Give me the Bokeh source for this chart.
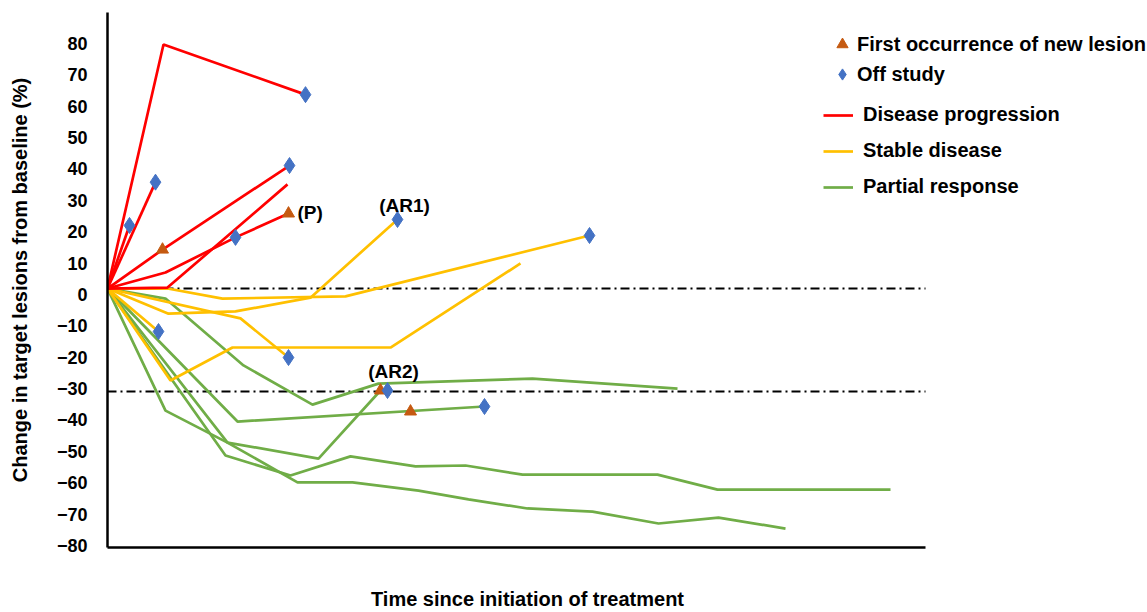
from bokeh.plotting import figure
from bokeh.models import Range1d, Label, Legend, LegendItem, FixedTicker
from bokeh.embed import file_html
from bokeh.resources import INLINE

FONT = "Liberation Sans"

# ---- data (time in arbitrary units, change in %) ----
y_ticks = [-80, -70, -60, -50, -40, -30, -20, -10, 0, 10, 20, 30, 40, 50, 60, 70, 80]

prog_x = [[0, 5.6, 19.8], [0, 4.8], [0, 2.2], [0, 5.5, 18.2], [0, 5.8, 12.8, 18.1], [0, 6.0, 18.0]]
prog_y = [[1.9, 79.7, 63.7], [1.9, 35.8], [1.9, 22.0], [1.9, 14.3, 41.1],
          [1.9, 7.0, 18.2, 25.8], [1.9, 2.2, 35.1]]

stable_x = [[0, 6.0, 11.5, 23.8, 48.2], [0, 6.1, 12.8, 20.3, 29.0], [0, 13.3, 18.1],
            [0, 6.3, 12.5, 28.3, 41.3], [0, 5.1]]
stable_y = [[1.9, 1.9, -1.3, -0.6, 18.8], [1.9, -6.1, -5.4, -1.0, 23.9], [1.9, -7.6, -20.1],
            [1.9, -27.4, -16.9, -16.9, 9.9], [1.9, -11.8]]

resp_x = [[0, 5.8, 13.6, 20.5, 27.1, 42.5, 57.0],
          [0, 5.8, 12.0, 21.1, 27.3],
          [0, 11.8, 18.3, 24.3, 30.8, 35.8, 41.5, 55.0, 61.0, 78.3],
          [0, 12.0, 19.0, 24.5, 31.1, 36.1, 42.0, 48.5, 55.1, 61.1, 67.8],
          [0, 13.0, 37.7]]
resp_y = [[1.9, -1.3, -22.6, -35.1, -28.4, -26.8, -30.0],
          [1.9, -37.0, -47.2, -52.3, -30.6],
          [1.9, -51.3, -57.7, -51.6, -54.8, -54.5, -57.4, -57.4, -62.2, -62.2],
          [1.9, -47.2, -59.9, -59.9, -62.5, -65.3, -68.2, -69.2, -73.0, -71.1, -74.6],
          [1.9, -40.5, -35.7]]

new_lesion_x = [5.5, 18.1, 27.3, 30.3]
new_lesion_y = [14.3, 25.8, -30.6, -37.3]

off_study_x = [2.2, 4.8, 19.8, 18.2, 12.8, 29.0, 48.2, 5.1, 18.1, 28.0, 37.7]
off_study_y = [22.0, 35.8, 63.7, 41.1, 18.2, 23.9, 18.8, -11.8, -20.1, -30.6, -35.7]

ref_levels = [1.9, -30.9]
x_axis_end = 81.8

x_title = "Time since initiation of treatment"
x_title_pos = 42.0

ann_text = ["(P)", "(AR1)", "(AR2)"]
ann_x = [19.0, 29.7, 28.6]
ann_y = [26.1, 28.4, -24.5]
ann_align = ["left", "center", "center"]

RED, YEL, GRN = "#FF0000", "#FFC000", "#70AD47"
TRI_C, DIA_C = "#C55A11", "#4472C4"

p = figure(width=1147, height=612, output_backend="svg", toolbar_location=None,
           x_range=Range1d(0, 104.0), y_range=Range1d(-80.64, 89.88),
           min_border_left=107, min_border_right=0, min_border_top=12, min_border_bottom=65,
           background_fill_color="white", border_fill_color="white")
p.outline_line_color = None
p.grid.visible = False

for lv in ref_levels:
    p.segment(x0=0, y0=lv, x1=x_axis_end, y1=lv, line_color="black",
              line_width=2, line_dash="9 4 2 4")

r_resp = p.multi_line(resp_x, resp_y, line_color=GRN, line_width=2.7)
r_stab = p.multi_line(stable_x, stable_y, line_color=YEL, line_width=2.7)
r_prog = p.multi_line(prog_x, prog_y, line_color=RED, line_width=2.7)

r_tri = p.scatter(new_lesion_x, new_lesion_y, marker="triangle", size=12,
                  fill_color=TRI_C, line_color=TRI_C)
r_dia = p.scatter(off_study_x, off_study_y, marker="diamond", size=16,
                  fill_color=DIA_C, line_color=DIA_C)

for t, x, y, a in zip(ann_text, ann_x, ann_y, ann_align):
    p.add_layout(Label(x=x, y=y, text=t, text_align=a, text_baseline="middle",
                       text_font=FONT, text_font_size="19px", text_font_style="bold",
                       text_color="black"))

# axes
p.yaxis.ticker = FixedTicker(ticks=y_ticks)
p.yaxis.major_tick_line_color = None
p.yaxis.minor_tick_line_color = None
p.yaxis.major_label_standoff = 14
p.yaxis.major_label_text_font = FONT
p.yaxis.major_label_text_font_size = "18px"
p.yaxis.major_label_text_font_style = "bold"
p.yaxis.major_label_text_color = "black"
p.yaxis.axis_line_width = 2.5
p.yaxis.axis_line_color = "black"
p.yaxis.axis_label = "Change in target lesions from baseline (%)"
p.yaxis.axis_label_text_font = FONT
p.yaxis.axis_label_text_font_size = "20px"
p.yaxis.axis_label_text_font_style = "bold"
p.yaxis.axis_label_text_color = "black"
p.yaxis.axis_label_standoff = 23

# x axis: no ticks; its title is drawn as a single label positioned under the axis
p.xaxis.ticker = FixedTicker(ticks=[x_title_pos])
p.xaxis.major_label_overrides = {x_title_pos: x_title}
p.xaxis.bounds = (0, x_axis_end)
p.xaxis.major_tick_line_color = None
p.xaxis.minor_tick_line_color = None
p.xaxis.major_tick_out = 0
p.xaxis.major_tick_in = 0
p.xaxis.major_label_standoff = 40
p.xaxis.major_label_text_font = FONT
p.xaxis.major_label_text_font_size = "20px"
p.xaxis.major_label_text_font_style = "bold"
p.xaxis.major_label_text_color = "black"
p.xaxis.axis_line_width = 2.5
p.xaxis.axis_line_color = "black"

def make_legend(items, loc, gw, gh, sp, st):
    return Legend(items=items, location=loc, glyph_width=gw, glyph_height=gh,
                  label_height=gh, spacing=sp, label_standoff=st, padding=0, margin=0,
                  border_line_color=None, background_fill_alpha=0,
                  label_text_font=FONT, label_text_font_size="20px",
                  label_text_font_style="bold", label_text_color="black")

leg1 = make_legend([LegendItem(label="First occurrence of new lesion", renderers=[r_tri]),
                    LegendItem(label="Off study", renderers=[r_dia])],
                   (721, 459), 28, 28, 2, 1)
leg2 = make_legend([LegendItem(label="Disease progression", renderers=[r_prog]),
                    LegendItem(label="Stable disease", renderers=[r_stab]),
                    LegendItem(label="Partial response", renderers=[r_resp])],
                   (716, 349), 30, 22, 13, 10)
p.add_layout(leg1)
p.add_layout(leg2)

open("out.html", "w").write(file_html(p, INLINE))
